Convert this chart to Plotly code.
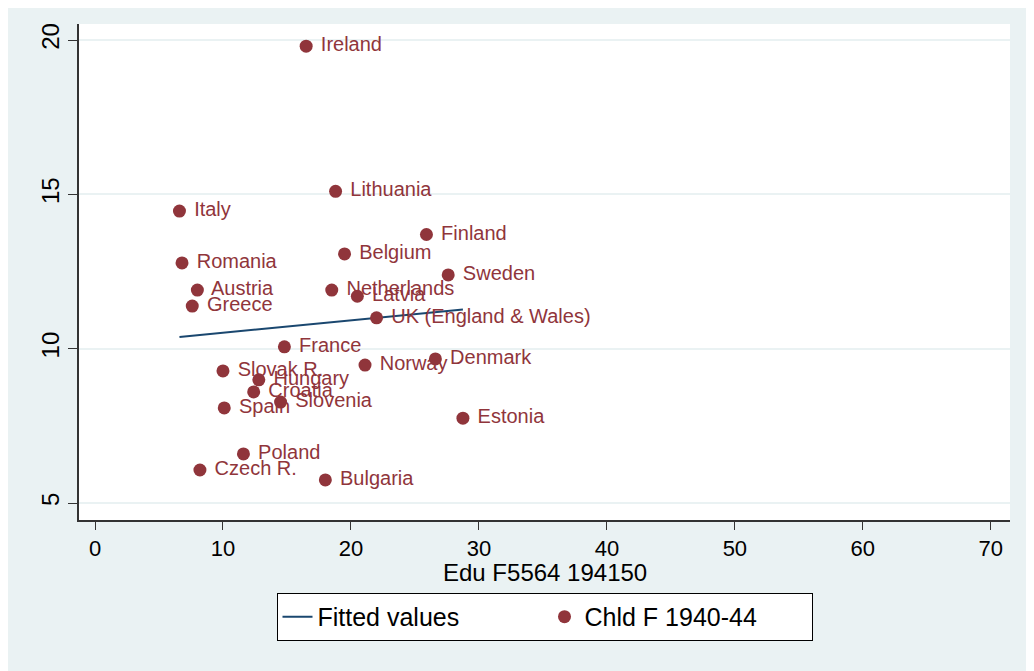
'''
    Scatter of completed fertility (women born 1940-44) against
    the share of tertiary-educated women aged 55-64, with a fitted line.
'''

import plotly.graph_objects as go

# Data
countries = [
    'Ireland', 'Lithuania', 'Italy', 'Finland', 'Belgium', 'Romania',
    'Sweden', 'Austria', 'Netherlands', 'Latvia', 'Greece',
    'UK (England & Wales)', 'France', 'Norway', 'Denmark', 'Slovak R.',
    'Hungary', 'Croatia', 'Slovenia', 'Spain', 'Estonia', 'Poland',
    'Czech R.', 'Bulgaria',
]
edu_f5564 = [
    16.5, 18.8, 6.6, 25.9, 19.5, 6.8,
    27.6, 8.0, 18.5, 20.5, 7.6,
    22.0, 14.8, 21.1, 26.6, 10.0,
    12.8, 12.4, 14.5, 10.1, 28.75, 11.6,
    8.2, 18.0,
]
chld_f_1940_44 = [
    19.8, 15.1, 14.46, 13.7, 13.07, 12.78,
    12.39, 11.9, 11.9, 11.7, 11.38,
    11.0, 10.06, 9.47, 9.67, 9.28,
    8.99, 8.6, 8.27, 8.08, 7.75, 6.59,
    6.07, 5.75,
]

# Fitted line end points (as drawn in the reference)
fit_x = [6.6, 28.75]
fit_y = [10.38, 11.27]

x_ticks = [0, 10, 20, 30, 40, 50, 60, 70]
y_ticks = [5, 10, 15, 20]
x_title = 'Edu F5564 194150'

MAROON = '#90353B'
NAVY = '#1A476F'
BG = '#EAF2F3'
FONT = 'Liberation Sans, Arial'


def init_figure():
    # The page body adds 8px around the figure, so size and margins
    # are trimmed by that much to keep the plot area in place
    fig = go.Figure()
    fig.update_layout(
        width=1026,
        height=663,
        paper_bgcolor=BG,
        plot_bgcolor='white',
        margin=dict(l=71, r=24, t=16, b=151),
        font=dict(family=FONT, size=22, color='black'),
        showlegend=True,
        legend=dict(
            orientation='h',
            x=0.5, xanchor='center',
            y=-0.147, yanchor='top',
            bgcolor='white',
            bordercolor='black',
            borderwidth=1,
            font=dict(family=FONT, size=25, color='black'),
            entrywidth=222,
        ),
    )
    # x axis title placed as a paper annotation to sit close to the ticks
    fig.add_annotation(
        text=x_title,
        xref='paper', yref='paper',
        x=0.5, y=-0.106,
        xanchor='center', yanchor='middle',
        showarrow=False,
        font=dict(family=FONT, size=24, color='black'),
    )
    return fig


def draw(fig):
    # Fitted values line
    fig.add_trace(go.Scatter(
        x=fit_x,
        y=fit_y,
        mode='lines',
        name='Fitted values',
        line=dict(color=NAVY, width=2),
    ))

    # Country markers with labels to the right (clock position 3)
    fig.add_trace(go.Scatter(
        x=edu_f5564,
        y=chld_f_1940_44,
        mode='markers+text',
        name='Chld F 1940-44',
        text=[' ' + c for c in countries],
        textposition='middle right',
        textfont=dict(family=FONT, size=20, color=MAROON),
        marker=dict(color=MAROON, size=13, line=dict(width=0)),
    ))
    return fig


def update_axes(fig):
    fig.update_xaxes(
        range=[-1.25, 71.5],
        tickvals=x_ticks,
        ticks='outside',
        ticklen=8,
        tickcolor='#333333',
        showline=True,
        linecolor='#333333',
        linewidth=1.5,
        showgrid=False,
        zeroline=False,
        tickfont=dict(family=FONT, size=22),
    )
    fig.update_yaxes(
        range=[4.45, 20.52],
        tickvals=y_ticks,
        tickangle=-90,
        ticks='outside',
        ticklen=9,
        tickcolor='#333333',
        showline=True,
        linecolor='#333333',
        linewidth=1.5,
        showgrid=True,
        gridcolor=BG,
        gridwidth=2,
        zeroline=False,
        tickfont=dict(family=FONT, size=24),
    )
    return fig


fig = init_figure()
fig = draw(fig)
fig = update_axes(fig)
fig.write_html('out.html')
